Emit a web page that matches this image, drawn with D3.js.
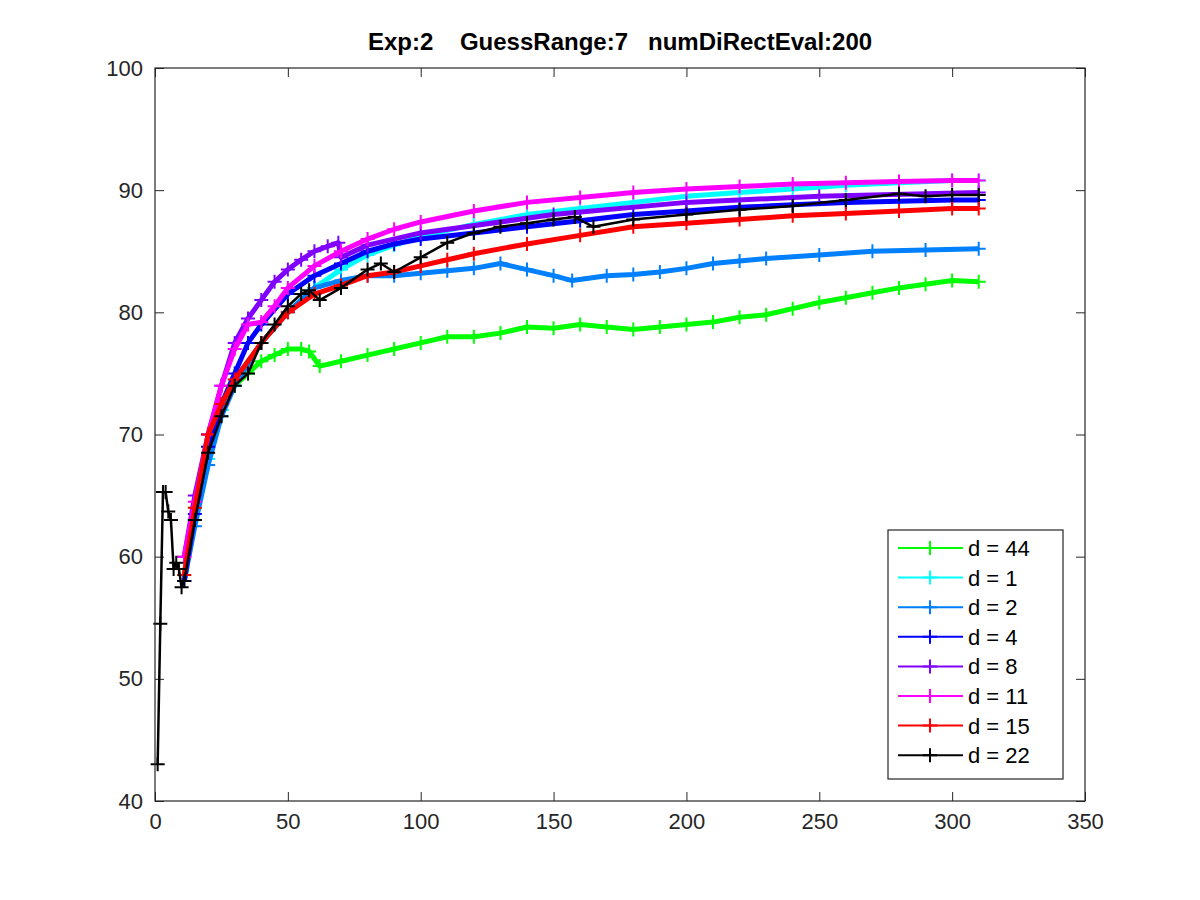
<!DOCTYPE html>
<html><head><meta charset="utf-8">
<script src="https://cdn.jsdelivr.net/npm/d3@7"></script>
<style>body{margin:0;background:#fff}svg{font-family:"Liberation Sans",Arial,sans-serif}</style>
</head><body><svg id="c" width="1200" height="900"></svg>
<script>
const title = "Exp:2    GuessRange:7   numDiRectEval:200";
const xTicks = [0,50,100,150,200,250,300,350];
const yTicks = [40,50,60,70,80,90,100];
const names = ["d = 44","d = 1","d = 2","d = 4","d = 8","d = 11","d = 15","d = 22"];
const colors = ["#00ff00","#00ffff","#0080ff","#0000ff","#8000ff","#ff00ff","#ff0000","#000000"];
const s44 = [[11,58.5],[15,64],[20,69],[25,72],[30,74],[35,75],[40,76],[45,76.5],[50,77],[55,77],[58,76.8],[62,75.6],[70,76],[80,76.5],[90,77],[100,77.5],[110,78],[120,78],[130,78.3],[140,78.8],[150,78.7],[160,79],[170,78.8],[180,78.6],[190,78.8],[200,79],[210,79.2],[220,79.6],[230,79.8],[240,80.3],[250,80.8],[260,81.2],[270,81.6],[280,82],[290,82.3],[300,82.6],[310,82.5]];
const s1 = [[11,58],[15,63],[20,68],[25,72],[30,74.5],[40,77.5],[50,80],[60,82],[70,83.5],[80,84.7],[90,85.5],[100,86.2],[120,87.2],[140,88],[160,88.5],[180,89],[200,89.5],[220,89.8],[240,90.1],[260,90.4],[280,90.6],[300,90.8],[310,90.8]];
const s2 = [[11,58],[15,62.5],[20,67.5],[25,71.5],[30,74],[40,77.5],[50,80],[60,82],[70,82.6],[80,83],[90,83],[100,83.2],[110,83.4],[120,83.6],[130,84],[140,83.5],[150,83],[157,82.6],[170,83],[180,83.1],[190,83.3],[200,83.6],[210,84],[220,84.2],[230,84.4],[250,84.7],[270,85],[290,85.1],[310,85.2]];
const s4 = [[11,58],[15,63.5],[20,69],[25,72.5],[30,75],[35,77.5],[40,79],[50,81.5],[60,83],[70,84],[80,85],[90,85.6],[100,86],[120,86.5],[140,87],[160,87.5],[180,88],[200,88.3],[220,88.6],[240,88.8],[260,89],[280,89.1],[300,89.2],[310,89.2]];
const s8 = [[11,60],[15,65],[20,70],[25,74],[30,77.5],[35,79.5],[40,81],[45,82.5],[50,83.5],[55,84.3],[60,85],[65,85.4],[69,85.7],[70,84.5],[80,85.5],[100,86.5],[150,88],[200,89],[250,89.5],[310,89.8]];
const s11 = [[11,60],[15,64.5],[20,70],[25,74],[30,77],[35,79],[40,79.2],[45,80.5],[50,82],[60,83.8],[70,85],[80,86],[90,86.8],[100,87.4],[120,88.3],[140,89],[160,89.4],[180,89.8],[200,90.1],[220,90.3],[240,90.5],[260,90.6],[280,90.7],[300,90.8],[310,90.8]];
const s15 = [[11,58.5],[15,64],[20,70],[25,72.5],[30,74.5],[40,77.5],[50,80],[60,81.5],[70,82.2],[80,83],[90,83.3],[100,83.8],[110,84.3],[120,84.8],[140,85.6],[160,86.3],[180,87],[200,87.3],[220,87.6],[240,87.9],[260,88.1],[280,88.3],[300,88.5],[310,88.5]];
const s22 = [[1,43],[2,54.5],[3,65.3],[4,65.3],[5,63.7],[6,63],[7,59],[8,59.5],[9,59],[10,57.5],[11,58],[15,63],[20,68.5],[25,71.5],[30,74],[35,75],[40,77.5],[45,79],[50,80.5],[55,81.5],[58,81.8],[62,81],[70,82],[80,83.5],[85,84],[90,83.3],[100,84.5],[110,85.7],[120,86.5],[130,87],[140,87.3],[150,87.6],[158,87.8],[165,87],[180,87.6],[200,88],[220,88.4],[240,88.7],[260,89.2],[280,89.7],[290,89.5],[300,89.6],[310,89.6]];
const series = [s44,s1,s2,s4,s8,s11,s15,s22];

const L=155,R=1085,T=68,B=801;
const svg=d3.select("#c");
const x=d3.scaleLinear().domain([0,350]).range([L,R]);
const y=d3.scaleLinear().domain([40,100]).range([B,T]);
const g=svg.append("g");
g.append("g").attr("transform",`translate(0,${B})`).call(d3.axisBottom(x).tickValues(xTicks).tickSizeInner(-9).tickSizeOuter(0).tickPadding(12));
g.append("g").attr("transform",`translate(0,${T})`).call(d3.axisTop(x).tickValues(xTicks).tickSizeInner(-9).tickSizeOuter(0).tickFormat(""));
g.append("g").attr("transform",`translate(${L},0)`).call(d3.axisLeft(y).tickValues(yTicks).tickSizeInner(-9).tickSizeOuter(0).tickPadding(12));
g.append("g").attr("transform",`translate(${R},0)`).call(d3.axisRight(y).tickValues(yTicks).tickSizeInner(-9).tickSizeOuter(0).tickFormat(""));
g.selectAll(".domain").remove();
g.selectAll(".tick line").attr("stroke","#262626");
g.selectAll(".tick text").attr("font-size",22).attr("fill","#262626");
const line=d3.line().x(d=>x(d[0])).y(d=>y(d[1]));
series.forEach((s,i)=>{
  const w = i===7 ? 2.5 : 5;
  svg.append("path").attr("d",line(s)).attr("fill","none").attr("stroke",colors[i]).attr("stroke-width",w).attr("stroke-linejoin","round");
  svg.append("g").selectAll("path").data(s).join("path")
    .attr("d",d=>`M${x(d[0])-7},${y(d[1])}h14M${x(d[0])},${y(d[1])-7}v14`)
    .attr("stroke",colors[i]).attr("stroke-width",2);
});
svg.append("rect").attr("x",L).attr("y",T).attr("width",R-L).attr("height",B-T).attr("fill","none").attr("stroke","#262626").attr("stroke-width",1.2);
svg.append("text").attr("x",(L+R)/2).attr("y",50).attr("text-anchor","middle").attr("font-size",24).attr("font-weight","bold").attr("fill","#000").style("white-space","pre").text(title);
const lg=svg.append("g");
lg.append("rect").attr("x",888).attr("y",530).attr("width",175).attr("height",249).attr("fill","#fff").attr("stroke","#262626").attr("stroke-width",1.2);
names.forEach((n,i)=>{
  const yy=548+i*29.6;
  lg.append("line").attr("x1",898).attr("x2",963).attr("y1",yy).attr("y2",yy).attr("stroke",colors[i]).attr("stroke-width",2);
  lg.append("path").attr("d",`M923,${yy}h14M930,${yy-7}v14`).attr("stroke",colors[i]).attr("stroke-width",2);
  lg.append("text").attr("x",968).attr("y",yy+8).attr("font-size",22).attr("fill","#000").text(n);
});
</script></body></html>
